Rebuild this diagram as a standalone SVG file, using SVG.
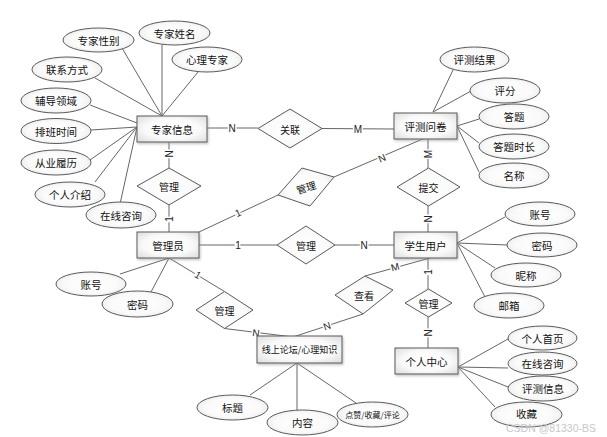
<svg xmlns="http://www.w3.org/2000/svg" width="607" height="437" viewBox="0 0 607 437">
<defs>
<radialGradient id="gf" cx="50%" cy="50%" r="70%">
<stop offset="0" stop-color="#ffffff"/>
<stop offset="0.55" stop-color="#fafafa"/>
<stop offset="1" stop-color="#dcdcdc"/>
</radialGradient>
<filter id="sh" x="-10%" y="-10%" width="130%" height="140%">
<feDropShadow dx="1" dy="1.5" stdDeviation="0.8" flood-color="#999" flood-opacity="0.6"/>
</filter>
<style>
.ent rect{fill:url(#gf);stroke:#5a5a5a;stroke-width:1;filter:url(#sh)}
.rel polygon{fill:url(#gf);stroke:#5a5a5a;stroke-width:1}
.att ellipse{fill:url(#gf);stroke:#5a5a5a;stroke-width:1}
text{font-family:"Noto Sans CJK SC","Liberation Sans",sans-serif;font-size:10.5px;fill:#111;text-anchor:middle;dominant-baseline:central}
.sm{font-size:8px}
.md{font-size:9px}
.rl{font-size:10px}
#connectors line{stroke:#666;stroke-width:1}
.lb{font-family:"Liberation Sans",sans-serif;font-size:10px;fill:#222;stroke:#fff;stroke-width:3;paint-order:stroke}
.wm{font-family:"Liberation Sans",sans-serif;font-size:10.5px;fill:#c8c8c8;text-anchor:start}
</style>
</defs>
<rect width="607" height="437" fill="#fff"/>

<g id="connectors">
<line x1="122" y1="48" x2="162" y2="116"/>
<line x1="162" y1="45" x2="162" y2="116"/>
<line x1="198" y1="72" x2="162" y2="116"/>
<line x1="95" y1="78" x2="162" y2="116"/>
<line x1="90" y1="105" x2="137" y2="123"/>
<line x1="91" y1="130" x2="137" y2="127"/>
<line x1="90" y1="160" x2="137" y2="127"/>
<line x1="95" y1="182" x2="137" y2="127"/>
<line x1="120" y1="204" x2="137" y2="127"/>
<line x1="453" y1="70" x2="433" y2="112"/>
<line x1="471" y1="91" x2="433" y2="112"/>
<line x1="479" y1="119" x2="457" y2="126"/>
<line x1="479" y1="143" x2="457" y2="126"/>
<line x1="479" y1="172" x2="457" y2="126"/>
<line x1="457" y1="243" x2="505" y2="217"/>
<line x1="457" y1="243" x2="507" y2="245"/>
<line x1="457" y1="243" x2="495" y2="268"/>
<line x1="457" y1="243" x2="485" y2="297"/>
<line x1="458" y1="367" x2="508" y2="339"/>
<line x1="458" y1="367" x2="508" y2="368"/>
<line x1="458" y1="367" x2="508" y2="387"/>
<line x1="458" y1="367" x2="495" y2="407"/>
<line x1="297" y1="363" x2="250" y2="395"/>
<line x1="297" y1="363" x2="297" y2="410"/>
<line x1="297" y1="363" x2="356" y2="403"/>
<line x1="169" y1="258" x2="120" y2="274"/>
<line x1="169" y1="258" x2="151" y2="292"/>
<line x1="207" y1="128" x2="258" y2="128"/>
<line x1="322" y1="128.5" x2="394" y2="129"/>
<line x1="169" y1="142" x2="169" y2="168"/>
<line x1="169" y1="205" x2="169" y2="232"/>
<line x1="199" y1="245" x2="277" y2="245"/>
<line x1="335" y1="245" x2="394" y2="245"/>
<line x1="199" y1="232" x2="278" y2="195"/>
<line x1="334" y1="177" x2="425" y2="138"/>
<line x1="428" y1="139" x2="428" y2="168"/>
<line x1="428" y1="206" x2="428" y2="232"/>
<line x1="428" y1="258" x2="428" y2="289"/>
<line x1="428" y1="317" x2="428" y2="348"/>
<line x1="430" y1="258" x2="365" y2="276"/>
<line x1="363" y1="314" x2="293" y2="337"/>
<line x1="169" y1="258" x2="224.5" y2="291.5"/>
<line x1="224.5" y1="328.5" x2="293" y2="337"/>
<text class="lb" x="232" y="128">N</text>
<text class="lb" x="358" y="129">M</text>
<text class="lb" transform="translate(169,154) rotate(-90)">N</text>
<text class="lb" transform="translate(169,219) rotate(-90)">1</text>
<text class="lb" x="238" y="245">1</text>
<text class="lb" x="364" y="245">N</text>
<text class="lb" transform="translate(238,213) rotate(-25)">1</text>
<text class="lb" transform="translate(382,158) rotate(-23)">N</text>
<text class="lb" transform="translate(428,154) rotate(-90)">M</text>
<text class="lb" transform="translate(428,219) rotate(-90)">N</text>
<text class="lb" transform="translate(428,272) rotate(-90)">1</text>
<text class="lb" transform="translate(428,333) rotate(-90)">N</text>
<text class="lb" transform="translate(395,267) rotate(-15)">M</text>
<text class="lb" transform="translate(327,326) rotate(-19)">N</text>
<text class="lb" transform="translate(198,275) rotate(31)">1</text>
<text class="lb" transform="translate(256,333) rotate(7)">N</text>
</g>

<g id="expert" class="ent"><rect x="137" y="116" width="70" height="26"/><text x="172" y="129">专家信息</text></g>
<g id="questionnaire" class="ent"><rect x="394" y="113" width="63" height="26"/><text x="425.5" y="126">评测问卷</text></g>
<g id="admin" class="ent"><rect x="137" y="232" width="62" height="26"/><text x="168" y="245">管理员</text></g>
<g id="student" class="ent"><rect x="394" y="232" width="63" height="26"/><text x="425.5" y="245">学生用户</text></g>
<g id="forum" class="ent"><rect x="257" y="336" width="85" height="27"/><text class="md" x="299.5" y="349.5">线上论坛/心理知识</text></g>
<g id="center" class="ent"><rect x="395" y="348" width="63" height="26"/><text x="426.5" y="361">个人中心</text></g>

<g id="rel-manage1" class="rel"><polygon points="137,186 169,168 201,186 169,205"/><text class="rl" x="169" y="186.5">管理</text></g>
<g id="rel-assoc" class="rel"><polygon points="258,128.5 290,109 322,128.5 290,148"/><text class="rl" x="290" y="129">关联</text></g>
<g id="rel-manage2" class="rel"><polygon points="278,195 302,168 334,177 310,206"/><text class="rl" transform="translate(306,187) rotate(-17)">管理</text></g>
<g id="rel-manage3" class="rel"><polygon points="277,245 306,226 335,245 306,264"/><text class="rl" x="306" y="245.5">管理</text></g>
<g id="rel-submit" class="rel"><polygon points="397,187 428.5,168 460,187 428.5,206"/><text class="rl" x="428.5" y="187.5">提交</text></g>
<g id="rel-view" class="rel"><polygon points="335,295 365,276 393,290 363,314"/><text class="rl" x="364" y="295">查看</text></g>
<g id="rel-manage4" class="rel"><polygon points="196,310 224.5,291.5 253,310 224.5,328.5"/><text class="rl" x="224.5" y="310.5">管理</text></g>
<g id="rel-manage5" class="rel"><polygon points="405,303 428.5,289 452,303 428.5,317"/><text class="rl" x="428.5" y="303.5">管理</text></g>

<g id="a-gender" class="att"><ellipse cx="98.5" cy="40" rx="35.5" ry="12"/><text x="98.5" y="40">专家性别</text></g>
<g id="a-name" class="att"><ellipse cx="174.5" cy="33" rx="35.5" ry="12"/><text x="174.5" y="33">专家姓名</text></g>
<g id="a-psy" class="att"><ellipse cx="207" cy="59.5" rx="35" ry="12.5"/><text x="207" y="59.5">心理专家</text></g>
<g id="a-contact" class="att"><ellipse cx="67" cy="69.5" rx="35" ry="12.5"/><text x="67" y="69.5">联系方式</text></g>
<g id="a-field" class="att"><ellipse cx="56" cy="100.5" rx="35" ry="12.5"/><text x="56" y="100.5">辅导领域</text></g>
<g id="a-sched" class="att"><ellipse cx="56" cy="131" rx="35" ry="12.5"/><text x="56" y="131">排班时间</text></g>
<g id="a-resume" class="att"><ellipse cx="56" cy="162.5" rx="35" ry="12.5"/><text x="56" y="162.5">从业履历</text></g>
<g id="a-intro" class="att"><ellipse cx="70" cy="194.5" rx="35" ry="12.5"/><text x="70" y="194.5">个人介绍</text></g>
<g id="a-consult" class="att"><ellipse cx="121" cy="215" rx="35" ry="13"/><text x="121" y="215">在线咨询</text></g>

<g id="a-result" class="att"><ellipse cx="474.5" cy="59.5" rx="34.5" ry="12.5"/><text x="474.5" y="59.5">评测结果</text></g>
<g id="a-score" class="att"><ellipse cx="505" cy="90.5" rx="35" ry="12.5"/><text x="505" y="90.5">评分</text></g>
<g id="a-answer" class="att"><ellipse cx="514" cy="116.5" rx="35" ry="12.5"/><text x="514" y="116.5">答题</text></g>
<g id="a-duration" class="att"><ellipse cx="514" cy="146.5" rx="35" ry="12.5"/><text x="514" y="146.5">答题时长</text></g>
<g id="a-title" class="att"><ellipse cx="514" cy="175.5" rx="35" ry="12.5"/><text x="514" y="175.5">名称</text></g>

<g id="s-account" class="att"><ellipse cx="540" cy="214" rx="35" ry="12"/><text x="540" y="214">账号</text></g>
<g id="s-pwd" class="att"><ellipse cx="542" cy="245" rx="35" ry="12"/><text x="542" y="245">密码</text></g>
<g id="s-nick" class="att"><ellipse cx="526" cy="275" rx="35" ry="12"/><text x="526" y="275">昵称</text></g>
<g id="s-mail" class="att"><ellipse cx="509" cy="305.5" rx="35" ry="12.5"/><text x="509" y="305.5">邮箱</text></g>

<g id="c-home" class="att"><ellipse cx="542.5" cy="338" rx="34.5" ry="12"/><text x="542.5" y="338">个人首页</text></g>
<g id="c-consult" class="att"><ellipse cx="542.5" cy="363.5" rx="34.5" ry="11.5"/><text x="542.5" y="363.5">在线咨询</text></g>
<g id="c-evalinfo" class="att"><ellipse cx="543" cy="388.5" rx="35" ry="12.5"/><text x="543" y="388.5">评测信息</text></g>
<g id="c-fav" class="att"><ellipse cx="526.5" cy="414.5" rx="35.5" ry="12.5"/><text x="526.5" y="413.5">收藏</text></g>

<g id="f-title" class="att"><ellipse cx="232.5" cy="407.5" rx="35.5" ry="12.5"/><text x="232.5" y="407.5">标题</text></g>
<g id="f-content" class="att"><ellipse cx="302.5" cy="422.5" rx="35.5" ry="12.5"/><text x="302.5" y="422.5">内容</text></g>
<g id="f-like" class="att"><ellipse cx="372.5" cy="414.5" rx="35.5" ry="12.5"/><text class="sm" x="372.5" y="414.5">点赞/收藏/评论</text></g>

<g id="m-account" class="att"><ellipse cx="91" cy="284" rx="35" ry="12"/><text x="91" y="284">账号</text></g>
<g id="m-pwd" class="att"><ellipse cx="137.5" cy="304" rx="35.5" ry="13"/><text x="137.5" y="304">密码</text></g>

<text class="wm" x="506" y="428">CSDN @81330-BS</text>
</svg>
